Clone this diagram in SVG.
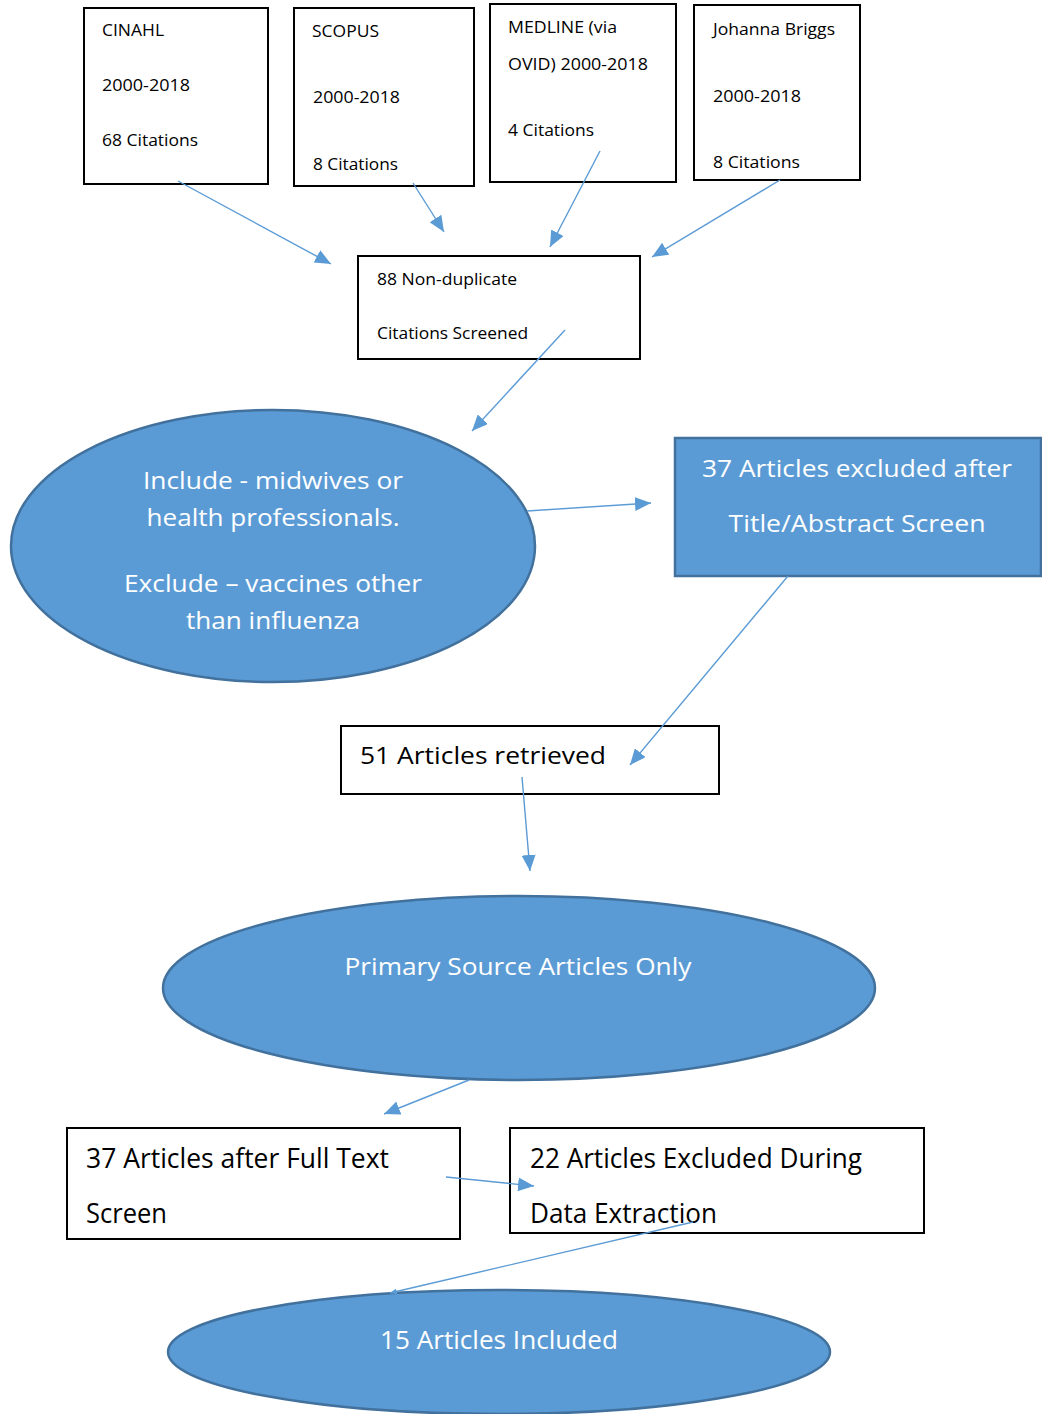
<svg xmlns="http://www.w3.org/2000/svg" width="1042" height="1414" viewBox="0 0 1042 1414">
<style>
.box{fill:#fff;stroke:#000;stroke-width:2}
.blue{fill:#5B9BD5;stroke:#41719C;stroke-width:2.5}
.t{font-family:"Open Sans","Liberation Sans",sans-serif;fill:#000}
.s{font-size:16px}
.m{font-size:22px}
.l{font-size:24px}
.b{font-size:27px}
.w{fill:#fff;font-size:24px}
.wb{fill:#fff;font-size:26px}
.c{stroke:#5B9BD5;stroke-width:1.4;fill:none;marker-end:url(#ah)}
</style>
<defs>
<marker id="ah" markerUnits="userSpaceOnUse" markerWidth="18" markerHeight="14" refX="16" refY="7" orient="auto">
<path d="M0,0 L16,7 L0,14 z" fill="#5B9BD5"/>
</marker>
<marker id="ahs" markerUnits="userSpaceOnUse" markerWidth="8" markerHeight="6" refX="7" refY="3" orient="auto">
<path d="M0,0 L7,3 L0,6 z" fill="#5B9BD5"/>
</marker>
</defs>
<rect width="1042" height="1414" fill="#fff"/>

<g id="cinahl">
<rect class="box" x="84" y="8" width="184" height="176"/>
<text class="t s" x="102" y="36" textLength="62" lengthAdjust="spacingAndGlyphs">CINAHL</text>
<text class="t s" x="102" y="91" textLength="88" lengthAdjust="spacingAndGlyphs">2000-2018</text>
<text class="t s" x="102" y="146" textLength="96" lengthAdjust="spacingAndGlyphs">68 Citations</text>
</g>
<g id="scopus">
<rect class="box" x="294" y="8" width="180" height="178"/>
<text class="t s" x="312" y="37" textLength="67" lengthAdjust="spacingAndGlyphs">SCOPUS</text>
<text class="t s" x="313" y="103" textLength="87" lengthAdjust="spacingAndGlyphs">2000-2018</text>
<text class="t s" x="313" y="170" textLength="85" lengthAdjust="spacingAndGlyphs">8 Citations</text>
</g>
<g id="medline">
<rect class="box" x="490" y="4" width="186" height="178"/>
<text class="t s" x="508" y="33" textLength="109" lengthAdjust="spacingAndGlyphs">MEDLINE (via</text>
<text class="t s" x="508" y="70" textLength="140" lengthAdjust="spacingAndGlyphs">OVID) 2000-2018</text>
<text class="t s" x="508" y="136" textLength="86" lengthAdjust="spacingAndGlyphs">4 Citations</text>
</g>
<g id="joanna">
<rect class="box" x="694" y="5" width="166" height="175"/>
<text class="t s" x="713" y="35" textLength="122" lengthAdjust="spacingAndGlyphs">Johanna Briggs</text>
<text class="t s" x="713" y="102" textLength="88" lengthAdjust="spacingAndGlyphs">2000-2018</text>
<text class="t s" x="713" y="168" textLength="87" lengthAdjust="spacingAndGlyphs">8 Citations</text>
</g>
<g id="screened">
<rect class="box" x="358" y="256" width="282" height="103"/>
<text class="t s" x="377" y="285" textLength="140" lengthAdjust="spacingAndGlyphs">88 Non-duplicate</text>
<text class="t s" x="377" y="339" textLength="151" lengthAdjust="spacingAndGlyphs">Citations Screened</text>
</g>
<g id="criteria">
<ellipse class="blue" cx="273" cy="546" rx="262" ry="136"/>
<text class="t w" x="273" y="489" text-anchor="middle" textLength="260" lengthAdjust="spacingAndGlyphs">Include - midwives or</text>
<text class="t w" x="273" y="526" text-anchor="middle" textLength="253" lengthAdjust="spacingAndGlyphs">health professionals.</text>
<text class="t w" x="273" y="592" text-anchor="middle" textLength="298" lengthAdjust="spacingAndGlyphs">Exclude – vaccines other</text>
<text class="t w" x="273" y="629" text-anchor="middle" textLength="174" lengthAdjust="spacingAndGlyphs">than influenza</text>
</g>
<g id="excluded37">
<rect class="blue" x="675" y="438" width="366" height="138"/>
<text class="t w" x="857" y="477" text-anchor="middle" textLength="310" lengthAdjust="spacingAndGlyphs">37 Articles excluded after</text>
<text class="t w" x="857" y="532" text-anchor="middle" textLength="257" lengthAdjust="spacingAndGlyphs">Title/Abstract Screen</text>
</g>
<g id="retrieved">
<rect class="box" x="341" y="726" width="378" height="68"/>
<text class="t l" x="360" y="764" textLength="246" lengthAdjust="spacingAndGlyphs">51 Articles retrieved</text>
</g>
<g id="primary">
<ellipse class="blue" cx="519" cy="988" rx="356" ry="92"/>
<text class="t w" x="518" y="975" text-anchor="middle" textLength="347" lengthAdjust="spacingAndGlyphs">Primary Source Articles Only</text>
</g>
<g id="fulltext">
<rect class="box" x="67" y="1128" width="393" height="111"/>
<text class="t b" x="86" y="1168" textLength="303" lengthAdjust="spacingAndGlyphs">37 Articles after Full Text</text>
<text class="t b" x="86" y="1223" textLength="81" lengthAdjust="spacingAndGlyphs">Screen</text>
</g>
<g id="extraction">
<rect class="box" x="510" y="1128" width="414" height="105"/>
<text class="t b" x="530" y="1168" textLength="332" lengthAdjust="spacingAndGlyphs">22 Articles Excluded During</text>
<text class="t b" x="530" y="1223" textLength="187" lengthAdjust="spacingAndGlyphs">Data Extraction</text>
</g>
<g id="included">
<ellipse class="blue" cx="499" cy="1352" rx="331" ry="62"/>
<text class="t wb" x="499" y="1349" text-anchor="middle" textLength="238" lengthAdjust="spacingAndGlyphs">15 Articles Included</text>
</g>

<g id="connectors">
<line class="c" x1="178" y1="181" x2="331" y2="264"/>
<line class="c" x1="413" y1="183" x2="444" y2="232"/>
<line class="c" x1="600" y1="151" x2="550" y2="247"/>
<line class="c" x1="780" y1="180" x2="652" y2="257"/>
<line class="c" x1="565" y1="330" x2="472" y2="431"/>
<line class="c" x1="527" y1="511" x2="651" y2="503"/>
<line class="c" x1="788" y1="576" x2="630" y2="765"/>
<line class="c" x1="522" y1="777" x2="530" y2="871"/>
<line class="c" x1="469" y1="1080" x2="384" y2="1114"/>
<line class="c" x1="446" y1="1177" x2="534" y2="1186"/>
<line x1="693" y1="1222" x2="390" y2="1293" stroke="#5B9BD5" stroke-width="1.4" marker-end="url(#ahs)"/>
</g>
</svg>
